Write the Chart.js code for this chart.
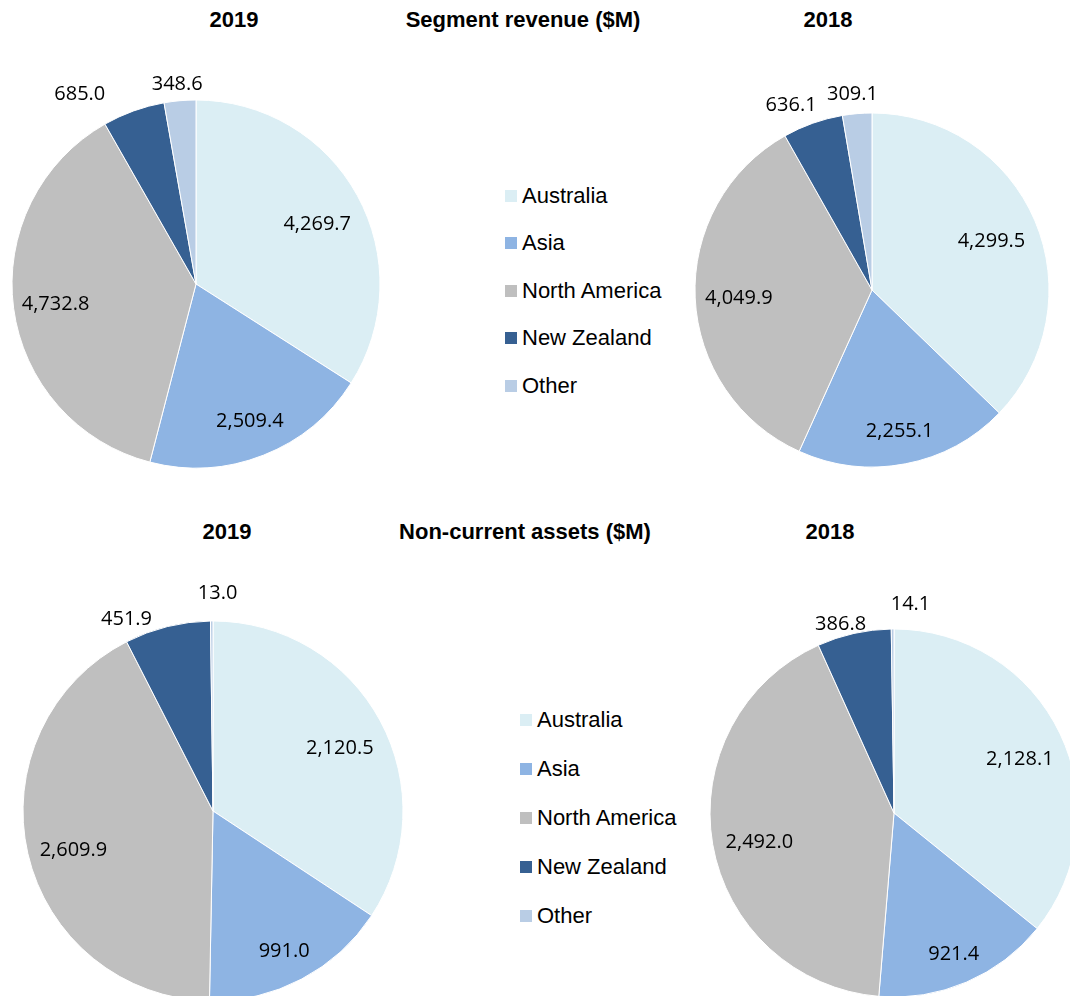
<!DOCTYPE html>
<html>
<head>
<meta charset="utf-8">
<script src="https://cdn.jsdelivr.net/npm/chart.js@4/dist/chart.umd.min.js"></script>
<style>
  html, body { margin: 0; padding: 0; background: #fff; }
  body { width: 1070px; height: 996px; position: relative; overflow: hidden; }
  .pie { position: absolute; }
  .title {
    position: absolute; transform: translateX(-50%); white-space: nowrap;
    font: bold 22px "Liberation Sans", Arial, sans-serif; line-height: 30px; color: #000;
  }
  .legend { position: absolute; font: 22px "Liberation Sans", Arial, sans-serif; color: #000; }
  .legend .item { display: flex; align-items: center; white-space: nowrap; }
  .legend .swatch { width: 12px; height: 12px; margin-right: 5px; }
</style>
</head>
<body>

<div class="title" style="left:234px; top:5px;">2019</div>
<div class="title" style="left:523px; top:5px;">Segment revenue ($M)</div>
<div class="title" style="left:828px; top:5px;">2018</div>
<div class="title" style="left:227px; top:517px;">2019</div>
<div class="title" style="left:525px; top:517px;">Non-current assets ($M)</div>
<div class="title" style="left:830px; top:517px;">2018</div>

<div class="legend" id="legendTop" style="left:505px; top:172px;"></div>
<div class="legend" id="legendBottom" style="left:520px; top:695px;"></div>

<script>
const regions = ['Australia', 'Asia', 'North America', 'New Zealand', 'Other'];
const regionColors = ['#dbeef4', '#8eb4e3', '#bfbfbf', '#366092', '#b9cde5'];

const revenue2019 = [4269.7, 2509.4, 4732.8, 685.0, 348.6];
const revenue2018 = [4299.5, 2255.1, 4049.9, 636.1, 309.1];
const assets2019 = [2120.5, 991.0, 2609.9, 451.9, 13.0];
const assets2018 = [2128.1, 921.4, 2492.0, 386.8, 14.1];

// where each pie sits, plus small label nudges
const pies = [
  { data: revenue2019, cx: 196, cy: 284, r: 184,
    nudge: [[-3, 7], [2, 4], [0, 0], [-47, 1], [-1, 2]] },
  { data: revenue2018, cx: 872, cy: 290, r: 177,
    nudge: [[-6, 3], [2, 6], [3, 1], [-15, 0], [-3, -1]] },
  { data: assets2019, cx: 213, cy: 811, r: 190,
    nudge: [[-2, 5], [3, 9], [3, 5], [-36, 11], [6, -9]] },
  { data: assets2018, cx: 894, cy: 813, r: 184,
    nudge: [[-2, 6], [4, 10], [5, 4], [-9, 9], [18, -6]] }
];

function fmt(v) {
  return v.toLocaleString('en-US', { minimumFractionDigits: 1, maximumFractionDigits: 1 });
}

const valueLabels = {
  id: 'valueLabels',
  afterDatasetsDraw(chart, args, opts) {
    const ctx = chart.ctx;
    const values = chart.data.datasets[0].data;
    const total = values.reduce((a, b) => a + b, 0);
    const size = 20;
    ctx.save();
    ctx.font = size + 'px "Open Sans", sans-serif';
    ctx.fillStyle = '#000';
    ctx.textAlign = 'center';
    ctx.textBaseline = 'alphabetic';
    chart.getDatasetMeta(0).data.forEach((arc, i) => {
      const p = arc.getProps(['x', 'y', 'startAngle', 'endAngle', 'outerRadius'], true);
      const mid = (p.startAngle + p.endAngle) / 2;
      const inside = values[i] / total > 0.1;
      const d = inside ? p.outerRadius * 0.77 : p.outerRadius + 20;
      const n = opts.nudge[i] || [0, 0];
      const x = p.x + Math.cos(mid) * d + n[0];
      const y = p.y + Math.sin(mid) * d + n[1];
      ctx.fillText(fmt(values[i]), x, y + size * 0.357);
    });
    ctx.restore();
  }
};

const margin = 60;
pies.forEach(pie => {
  const box = document.createElement('div');
  box.className = 'pie';
  const side = 2 * (pie.r + margin);
  box.style.left = (pie.cx - pie.r - margin) + 'px';
  box.style.top = (pie.cy - pie.r - margin) + 'px';
  const canvas = document.createElement('canvas');
  canvas.width = side;
  canvas.height = side;
  box.appendChild(canvas);
  document.body.appendChild(box);

  new Chart(canvas.getContext('2d'), {
    type: 'pie',
    data: {
      labels: regions,
      datasets: [{
        data: pie.data,
        backgroundColor: regionColors,
        borderColor: '#ffffff',
        borderWidth: 1
      }]
    },
    options: {
      responsive: false,
      animation: false,
      devicePixelRatio: 1,
      radius: pie.r,
      layout: { padding: margin },
      plugins: {
        legend: { display: false },
        tooltip: { enabled: false },
        valueLabels: { nudge: pie.nudge }
      }
    },
    plugins: [valueLabels]
  });
});

function buildLegend(id, rowHeight) {
  const el = document.getElementById(id);
  regions.forEach((name, i) => {
    const row = document.createElement('div');
    row.className = 'item';
    row.style.height = rowHeight + 'px';
    row.innerHTML = '<span class="swatch" style="background:' + regionColors[i] + '"></span><span>' + name + '</span>';
    el.appendChild(row);
  });
}
buildLegend('legendTop', 47.5);
buildLegend('legendBottom', 49);
</script>
</body>
</html>
